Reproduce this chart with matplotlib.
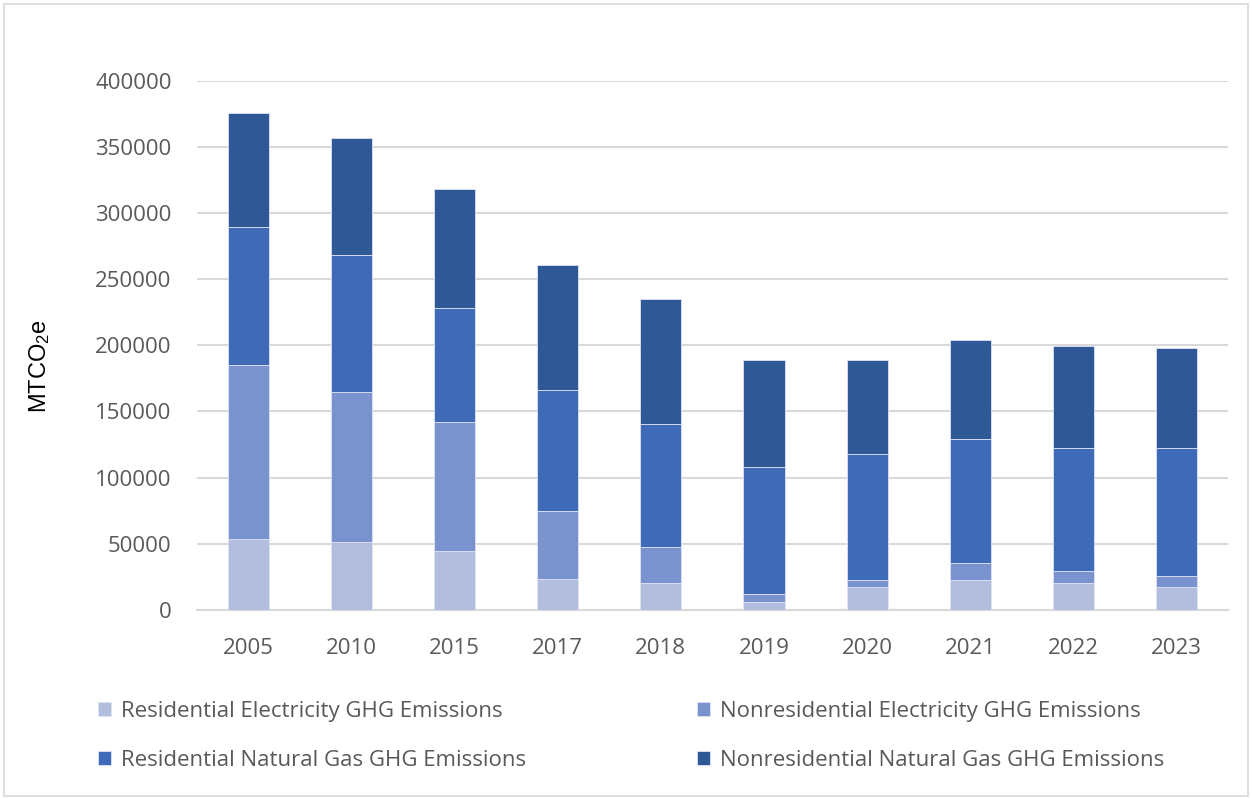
import numpy as np
import matplotlib.pyplot as plt
from matplotlib.patches import Rectangle

plt.rcParams['font.family'] = ['Open Sans', 'DejaVu Sans']
plt.rcParams['mathtext.fontset'] = 'custom'
plt.rcParams['mathtext.rm'] = 'Liberation Sans'
plt.rcParams['mathtext.it'] = 'Liberation Sans'

years = ["2005", "2010", "2015", "2017", "2018", "2019", "2020", "2021", "2022", "2023"]

res_elec = [53600, 51100, 44600, 23400, 20400, 6000, 17400, 22700, 20400, 17400]
nonres_elec = [131400, 113550, 97400, 51400, 26950, 6050, 5300, 12850, 8800, 8300]
res_gas = [104500, 103450, 85900, 91400, 92900, 95700, 94900, 93650, 93150, 96400]
nonres_gas = [85700, 88200, 90300, 94400, 94650, 80800, 71200, 75000, 77050, 76000]

series = [
    ("Residential Electricity GHG Emissions", res_elec, "#B3BEDF"),
    ("Nonresidential Electricity GHG Emissions", nonres_elec, "#7A92CE"),
    ("Residential Natural Gas GHG Emissions", res_gas, "#3E6AB7"),
    ("Nonresidential Natural Gas GHG Emissions", nonres_gas, "#2F5897"),
]

text_col = "#595959"
grid_col = "#D9D9D9"

fig = plt.figure(figsize=(12.52, 7.98), dpi=100)
ax = fig.add_axes([0.157, 0.2356, 0.824, 0.6634])

x = np.arange(len(years))
bottom = np.zeros(len(years))
bars = {}
for name, vals, col in series:
    vals = np.array(vals, dtype=float)
    bars[name] = ax.bar(x, vals, width=0.4, bottom=bottom, color=col,
                        edgecolor="#DDE3F2", linewidth=0.6, label=name, zorder=3)
    bottom += vals

ax.set_xlim(-0.5, len(years) - 0.5)
ax.set_ylim(0, 400000)
ax.set_yticks(np.arange(0, 400001, 50000))
ax.set_xticks(x)
ax.set_xticklabels(years)
ax.yaxis.grid(True, color=grid_col, linewidth=1.5, zorder=0)
ax.set_axisbelow(True)
for s in ["top", "right", "left"]:
    ax.spines[s].set_visible(False)
ax.spines["bottom"].set_color(grid_col)
ax.spines["bottom"].set_linewidth(1.5)
ax.tick_params(axis="both", length=0, labelsize=16, labelcolor=text_col)
ax.tick_params(axis="x", pad=20)
ax.tick_params(axis="y", pad=18)

ax.set_ylabel("MTCO$_2$e", fontsize=17, color="black", family="Liberation Sans")
ax.yaxis.set_label_coords(-0.14, 0.46)

# legend: fill columns so rows read electricity / natural gas
order = [series[0][0], series[2][0], series[1][0], series[3][0]]
fig.legend([bars[n] for n in order], order, ncol=2, loc="center left",
           bbox_to_anchor=(0.0625, 0.078), frameon=False, fontsize=16,
           labelcolor=text_col, handlelength=0.58, handleheight=0.58,
           handletextpad=0.45, columnspacing=7.7, labelspacing=1.25)

# thin outer frame around the chart
fig.patches.append(Rectangle((0.003, 0.003), 0.994, 0.992, transform=fig.transFigure,
                             fill=False, edgecolor=grid_col, linewidth=1.2))

fig.savefig("out.png", dpi=100)
